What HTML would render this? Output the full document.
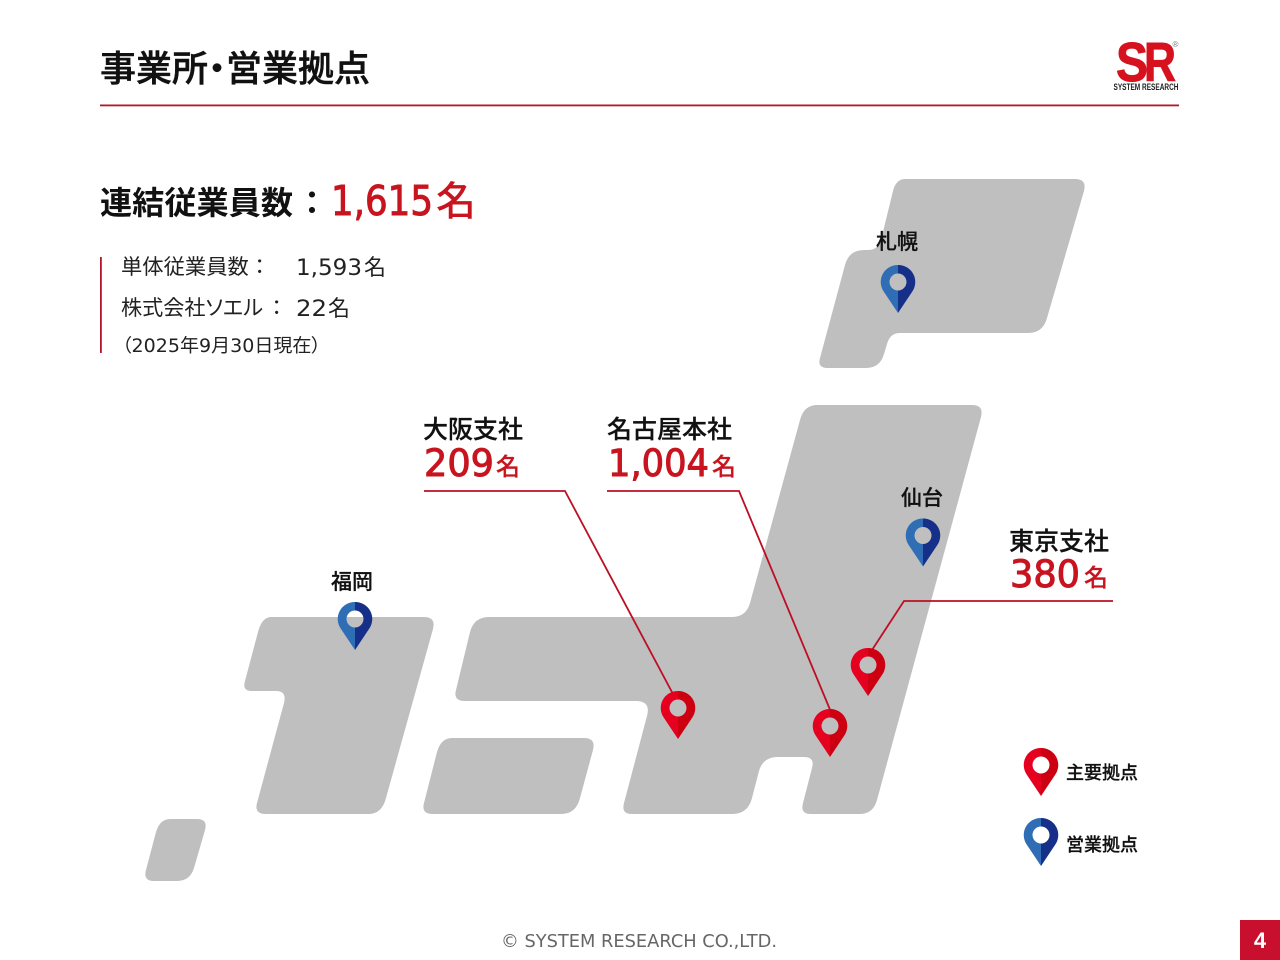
<!DOCTYPE html>
<html lang="ja"><head><meta charset="utf-8"><title>事業所・営業拠点</title>
<style>
html,body{margin:0;padding:0;background:#fff}
svg{display:block}
text{font-family:"Liberation Sans","Noto Sans CJK JP",sans-serif;fill:#111}
.j{font-family:"Noto Sans CJK JP",sans-serif;font-feature-settings:"palt"}
.b{font-weight:700}
.m{font-weight:500;stroke:#111;stroke-width:.25}
.r{fill:#c8141f;stroke:#c8141f}
.d{font-family:"DejaVu Sans","Noto Sans CJK JP",sans-serif}
.t{fill:#222;font-weight:400;stroke:none}
.map{fill:#bfbfbf}
.ln{fill:none;stroke:#bd0f24;stroke-width:1.8}
</style></head><body>
<svg width="1280" height="960" viewBox="0 0 1280 960" xmlns="http://www.w3.org/2000/svg">
<defs>
<g id="red">
<path fill="#e60020" d="M0 48L-14 27A17 17 0 0 1 0 0V8.500A8.500 8.500 0 0 0 0 25.500Z"/>
<path fill="#cc0010" d="M0 48L14 27A17 17 0 0 0 0 0V8.500A8.500 8.500 0 0 1 0 25.500Z"/>
</g>
<g id="blue">
<path fill="#2f6db5" d="M0 48L-14 27A17 17 0 0 1 0 0V8.500A8.500 8.500 0 0 0 0 25.500Z"/>
<path fill="#16308a" d="M0 48L14 27A17 17 0 0 0 0 0V8.500A8.500 8.500 0 0 1 0 25.500Z"/>
</g>
</defs>
<rect width="1280" height="960" fill="#fff"/>

<text x="100" y="81" class="j b" font-size="36" style="font-weight:500;stroke:#111;stroke-width:.5">事業所・営業拠点</text>
<rect x="100" y="104.500" width="1079" height="1.800" fill="#b5152b"/>

<text x="1116" y="81" class="b" font-size="55" style="fill:#d7121f;stroke:#d7121f;stroke-width:1" textLength="32" lengthAdjust="spacingAndGlyphs">S</text>
<text x="1144" y="81" class="b" font-size="55" style="fill:#d7121f;stroke:#d7121f;stroke-width:1" textLength="32" lengthAdjust="spacingAndGlyphs">R</text>
<text x="1172.500" y="47" font-size="8" style="fill:#777">®</text>
<text x="1113.500" y="90" class="b" font-size="9" style="fill:#222" textLength="65" lengthAdjust="spacingAndGlyphs">SYSTEM RESEARCH</text>

<text x="100" y="214" class="j b" font-size="32" textLength="193" lengthAdjust="spacingAndGlyphs">連結従業員数</text>
<text x="296" y="214" class="j b" font-size="32" style="font-feature-settings:normal">：</text>
<text x="331" y="215" class="d r" font-size="41" style="stroke-width:1" textLength="102" lengthAdjust="spacingAndGlyphs">1,615</text>
<text x="436" y="215" class="j b r" font-size="40" style="stroke:none;font-weight:500">名</text>

<rect x="100" y="257" width="1.800" height="96" fill="#b5152b"/>
<text x="121" y="274" class="j t" font-size="21.300">単体従業員数</text>
<text x="249" y="274" class="j t" font-size="21.300" style="font-feature-settings:normal">：</text>
<text x="296" y="275" class="d t" font-size="22" textLength="66" lengthAdjust="spacingAndGlyphs">1,593</text>
<text x="364" y="275" class="j t" font-size="22">名</text>
<text x="121" y="315" class="j t" font-size="21.300" textLength="142" lengthAdjust="spacingAndGlyphs">株式会社ソエル</text>
<text x="266" y="315" class="j t" font-size="21.300" style="font-feature-settings:normal">：</text>
<text x="296" y="316" class="d t" font-size="22" textLength="31" lengthAdjust="spacingAndGlyphs">22</text>
<text x="328" y="316" class="j t" font-size="22">名</text>
<text x="122" y="352" class="d t" font-size="18.500" style="font-feature-settings:&quot;palt&quot;" textLength="199" lengthAdjust="spacingAndGlyphs">（2025年9月30日現在）</text>

<path class="map" d="M905 179H1075Q1087 179 1084 191L1047 318Q1043 333 1028 333H900Q890 333 887 344L884 354Q880 368 866 368H828Q817 368 820 358L845 265Q849 250 864 250H868Q878 250 881 240L893 191Q896 179 905 179Z"/>
<path class="map" d="M817 405H972Q984 405 981 417L877 800Q873 814 860 814H811Q800 814 803 803L812 768Q815 757 804 757H778Q763 757 759 771L752 798Q748 814 732 814H632Q621 814 624 803L647 716Q651 701 636 701H465Q453 701 456 690L470 632Q474 617 489 617H732Q746 617 750 603L800 420Q804 405 817 405Z"/>
<path class="map" d="M271 617H424Q436 617 433 629L386 798Q382 814 368 814H266Q254 814 257 803L284 703Q287 691 276 691H252Q242 691 245 681L258 632Q262 617 271 617Z"/>
<path class="map" d="M452 738H584Q596 738 593 750L580 798Q576 814 561 814H433Q421 814 424 803L437 752Q441 738 452 738Z"/>
<path class="map" d="M170 819H197Q208 819 205 830L194 868Q190 881 177 881H154Q143 881 146 870L156 832Q160 819 170 819Z"/>

<polyline class="ln" points="424,491 565,491 673,694"/>
<polyline class="ln" points="607,491 739,491 831,712"/>
<polyline class="ln" points="1113,601 904,601 872,650"/>

<use href="#blue" x="898" y="265"/>
<use href="#blue" x="923" y="518.500"/>
<use href="#blue" x="355" y="602"/>
<use href="#red" x="678" y="691"/>
<use href="#red" x="830" y="709"/>
<use href="#red" x="868" y="648"/>
<use href="#red" x="1041" y="748"/>
<use href="#blue" x="1041" y="818"/>

<text x="876" y="249" class="j m" font-size="21">札幌</text>
<text x="901" y="505" class="j m" font-size="21">仙台</text>
<text x="331" y="589" class="j m" font-size="21">福岡</text>

<text x="423" y="438" class="j m" font-size="25">大阪支社</text>
<text x="424" y="476" class="d r" font-size="37" style="stroke-width:1" textLength="70" lengthAdjust="spacingAndGlyphs">209</text>
<text x="496" y="475" class="j m r" font-size="24">名</text>

<text x="607" y="438" class="j m" font-size="25">名古屋本社</text>
<text x="608" y="476" class="d r" font-size="37" style="stroke-width:1" textLength="101" lengthAdjust="spacingAndGlyphs">1,004</text>
<text x="712" y="475" class="j m r" font-size="24">名</text>

<text x="1009" y="550" class="j m" font-size="25">東京支社</text>
<text x="1010" y="587" class="d r" font-size="37" style="stroke-width:1" textLength="70" lengthAdjust="spacingAndGlyphs">380</text>
<text x="1084" y="586" class="j m r" font-size="24">名</text>

<text x="1066" y="779" class="j m" font-size="18">主要拠点</text>
<text x="1066" y="851" class="j m" font-size="18">営業拠点</text>

<text x="501" y="947" class="d" font-size="18" style="fill:#666" textLength="276" lengthAdjust="spacingAndGlyphs">© SYSTEM RESEARCH CO.,LTD.</text>
<rect x="1240" y="920" width="40" height="40" fill="#c8102e"/>
<text x="1260" y="948" class="b" font-size="22" text-anchor="middle" style="fill:#fff">4</text>
</svg>
</body></html>
